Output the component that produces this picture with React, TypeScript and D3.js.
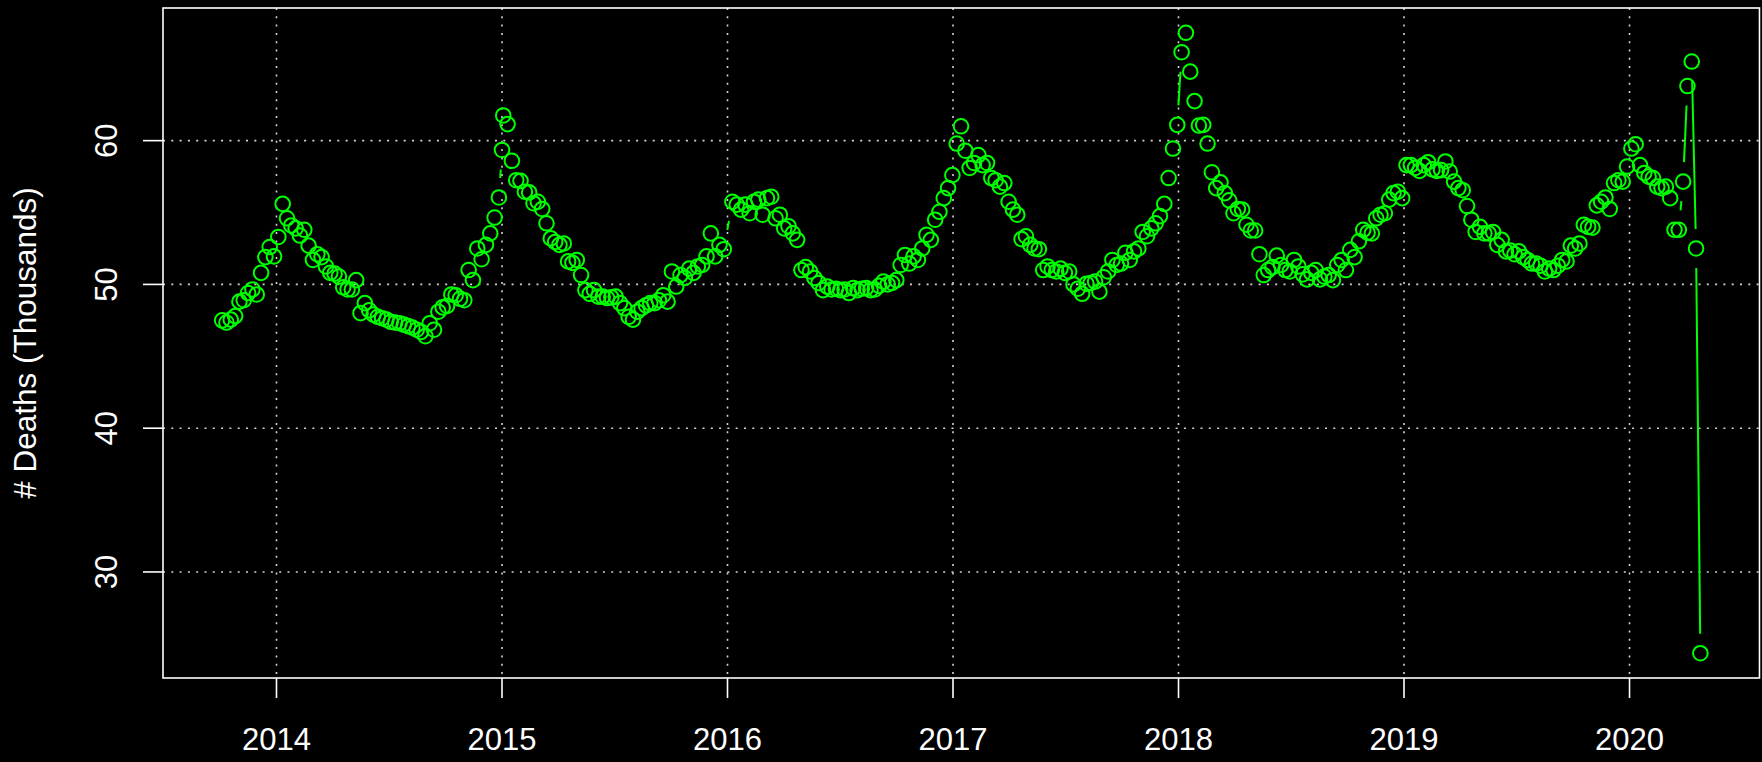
import React from "react";
import * as d3 from "d3";

// ---- data: weekly deaths (thousands), week-ending dates ----
const YEAR_TICKS = [2014, 2015, 2016, 2017, 2018, 2019, 2020];
const Y_TICKS = [30, 40, 50, 60];
const Y_TITLE = "# Deaths (Thousands)";

const start2013 = "2013-10-05";
const deaths2013 = [47.5, 47.35, 47.55, 47.8, 48.8, 48.9, 49.4, 49.65, 49.3, 50.8, 51.9, 52.6, 51.95];

const start2014 = "2014-01-04";
const deaths2014 = [
  53.3, 55.6, 54.6, 54.1, 53.9, 53.4, 53.8, 52.7, 51.7, 52.1,
  51.9, 51.25, 50.8, 50.75, 50.55, 49.8, 49.65, 49.65, 50.3, 48.0,
  48.7, 48.2, 47.9, 47.75, 47.65, 47.55, 47.4, 47.35, 47.3, 47.2,
  47.1, 47.0, 46.85, 46.7, 46.4, 47.3, 46.85, 48.1, 48.4, 48.5,
  49.3, 49.25, 49.0, 48.9, 51.0, 50.3, 52.5, 51.75, 52.75, 53.55,
  54.65, 56.05,
];

const startWeek53 = "2015-01-01";
const deathsWeek53 = [59.35];

const start2015 = "2015-01-03";
const deaths2015 = [
  61.75, 61.15, 58.6, 57.25, 57.2, 56.45, 56.4, 55.65, 55.75, 55.25,
  54.25, 53.2, 52.95, 52.75, 52.85, 51.6, 51.5, 51.7, 50.65, 49.6,
  49.35, 49.6, 49.15, 49.15, 49.05, 49.1, 49.15, 48.7, 48.35, 47.75,
  47.55, 48.1, 48.35, 48.55, 48.7, 48.7, 48.9, 49.25, 48.8, 50.9,
  49.85, 50.65, 50.45, 51.1, 50.8, 51.25, 51.35, 51.95, 53.55, 51.95,
  52.75, 52.45,
];

const start2016 = "2016-01-09";
const deaths2016 = [
  55.75, 55.55, 55.2, 55.55, 54.95, 55.75, 55.9, 54.85, 56.0, 56.1,
  54.6, 54.85, 53.9, 54.05, 53.55, 53.1, 51.0, 51.2, 50.9, 50.45,
  50.1, 49.6, 49.85, 49.65, 49.7, 49.6, 49.65, 49.4, 49.75, 49.6,
  49.7, 49.75, 49.6, 49.65, 49.9, 50.2, 50.0, 50.1, 50.3, 51.35,
  52.05, 51.45, 51.95, 51.7, 52.5, 53.45, 53.1, 54.5, 55.05, 56.0,
  56.7, 57.6,
];

const start2017 = "2017-01-07";
const deaths2017 = [
  59.8, 61.0, 59.3, 58.1, 58.45, 59.0, 58.3, 58.45, 57.4, 57.25,
  56.8, 57.05, 55.75, 55.2, 54.85, 53.15, 53.35, 52.75, 52.5, 52.45,
  51.0, 51.25, 51.0, 50.9, 51.1, 50.8, 50.9, 50.0, 49.7, 49.35,
  50.05, 50.1, 50.2, 49.5, 50.5, 50.9, 51.7, 51.35, 51.45, 52.2,
  51.7, 52.3, 52.5, 53.65, 53.35, 53.9, 54.25, 54.75, 55.6, 57.4,
  59.45, 61.1,
];

const start2018 = "2018-01-06";
const deaths2018 = [
  66.15, 67.5, 64.8, 62.75, 61.05, 61.1, 59.8, 57.8, 56.7, 57.1,
  56.35, 55.85, 54.95, 55.25, 55.2, 54.15, 53.75, 53.75, 52.1, 50.65,
  51.0, 51.2, 52.0, 51.35, 51.0, 50.9, 51.7, 51.25, 50.7, 50.35,
  50.8, 51.0, 50.35, 50.55, 50.65, 50.3, 51.35, 51.7, 51.0, 52.4,
  51.9, 53.0, 53.8, 53.6, 53.55, 54.6, 54.85, 54.95, 55.9, 56.35,
  56.45, 56.0,
];

const start2019 = "2019-01-05";
const deaths2019 = [
  58.3, 58.3, 58.1, 57.9, 58.3, 58.5, 58.0, 57.9, 57.95, 58.55,
  57.85, 57.15, 56.7, 56.55, 55.45, 54.5, 53.65, 54.0, 53.55, 53.55,
  53.65, 52.75, 53.1, 52.3, 52.35, 52.1, 52.3, 51.9, 51.7, 51.45,
  51.45, 51.3, 50.9, 51.1, 51.0, 51.3, 51.7, 51.6, 52.7, 52.5,
  52.85, 54.15, 54.0, 53.95, 55.5, 55.75, 56.05, 55.25, 57.05, 57.25,
  57.15, 58.2,
];

const start2020 = "2020-01-04";
const deaths2020 = [
  59.45, 59.75, 58.3, 57.75, 57.5, 57.4, 56.8, 56.7, 56.8, 56.0,
  53.8, 53.8, 57.15, 63.8, 65.5, 52.5, 24.35,
];

const BLOCKS: [string, number[]][] = [
  [start2013, deaths2013],
  [start2014, deaths2014],
  [startWeek53, deathsWeek53],
  [start2015, deaths2015],
  [start2016, deaths2016],
  [start2017, deaths2017],
  [start2018, deaths2018],
  [start2019, deaths2019],
  [start2020, deaths2020],
];

const DAY = 86400000;
function decimalYear(ms: number) {
  const d = new Date(ms);
  const y = d.getUTCFullYear();
  const s = Date.UTC(y, 0, 1);
  const e = Date.UTC(y + 1, 0, 1);
  return y + (ms - s) / (e - s);
}

function buildSeries() {
  const out: { t: number; v: number }[] = [];
  BLOCKS.forEach(([start, vals]) => {
    const s = Date.parse(start);
    vals.forEach((v, i) => out.push({ t: decimalYear(s + i * 7 * DAY), v }));
  });
  return out;
}

// ---- layout ----
const W = 1762;
const H = 762;
const L = 163;
const R = 1759.5;
const T = 8;
const B = 678;
const GREEN = "#00ff00";
const FONT = "'Liberation Sans', Arial, Helvetica, sans-serif";

export default function App() {
  const series = buildSeries();
  const [tx0, tx1] = d3.extent(series, (d) => d.t) as [number, number];
  const [vy0, vy1] = d3.extent(series, (d) => d.v) as [number, number];
  const px = (tx1 - tx0) * 0.04;
  const py = (vy1 - vy0) * 0.04;
  const x = d3.scaleLinear().domain([tx0 - px, tx1 + px]).range([L, R]);
  const y = d3.scaleLinear().domain([vy0 - py, vy1 + py]).range([B, T]);

  const pts = series.map((d) => [x(d.t), y(d.v)] as [number, number]);
  const GAP = 19.5;
  const segs: [number, number, number, number][] = [];
  for (let i = 1; i < pts.length; i++) {
    const [x0, y0] = pts[i - 1];
    const [x1, y1] = pts[i];
    const dx = x1 - x0;
    const dy = y1 - y0;
    const f = Math.hypot(dx, dy);
    if (f > 2 * GAP) {
      const ux = dx / f;
      const uy = dy / f;
      segs.push([x0 + GAP * ux, y0 + GAP * uy, x1 - GAP * ux, y1 - GAP * uy]);
    }
  }

  return (
    <div style={{ position: "fixed", left: 0, top: 0, width: W, height: H, background: "#000" }}>
      <svg width={W} height={H} style={{ display: "block" }}>
        <rect x={0} y={0} width={W} height={H} fill="#000" />
        {/* grid */}
        <g stroke="#d3d3d3" strokeWidth={1.6} strokeDasharray="2 6.3">
          {YEAR_TICKS.map((yr) => (
            <line key={"gx" + yr} x1={x(yr)} x2={x(yr)} y1={T} y2={B} />
          ))}
          {Y_TICKS.map((v) => (
            <line key={"gy" + v} x1={L} x2={R} y1={y(v)} y2={y(v)} />
          ))}
        </g>
        {/* type "b" line pieces */}
        <g stroke={GREEN} strokeWidth={2} strokeLinecap="butt">
          {segs.map((s, i) => (
            <line key={"s" + i} x1={s[0]} y1={s[1]} x2={s[2]} y2={s[3]} />
          ))}
        </g>
        {/* points */}
        <g fill="none" stroke={GREEN} strokeWidth={2}>
          {pts.map((p, i) => (
            <circle key={"p" + i} cx={p[0]} cy={p[1]} r={7.3} />
          ))}
        </g>
        {/* box */}
        <rect x={L} y={T} width={R - L} height={B - T} fill="none" stroke="#fff" strokeWidth={1.6} />
        {/* x axis */}
        <g stroke="#fff" strokeWidth={1.6}>
          {YEAR_TICKS.map((yr) => (
            <line key={"tx" + yr} x1={x(yr)} x2={x(yr)} y1={B} y2={B + 20} />
          ))}
          {Y_TICKS.map((v) => (
            <line key={"ty" + v} x1={L - 20} x2={L} y1={y(v)} y2={y(v)} />
          ))}
        </g>
        <g fill="#fff" fontFamily={FONT} fontSize={31}>
          {YEAR_TICKS.map((yr) => (
            <text key={"lx" + yr} x={x(yr)} y={750} textAnchor="middle">
              {yr}
            </text>
          ))}
          {Y_TICKS.map((v) => (
            <text key={"ly" + v} transform={`translate(117,${y(v)}) rotate(-90)`} textAnchor="middle">
              {v}
            </text>
          ))}
          <text
            transform={`translate(35.5,${(T + B) / 2}) rotate(-90)`}
            textAnchor="middle"
            fontSize={31.5}
          >
            {Y_TITLE}
          </text>
        </g>
      </svg>
    </div>
  );
}
